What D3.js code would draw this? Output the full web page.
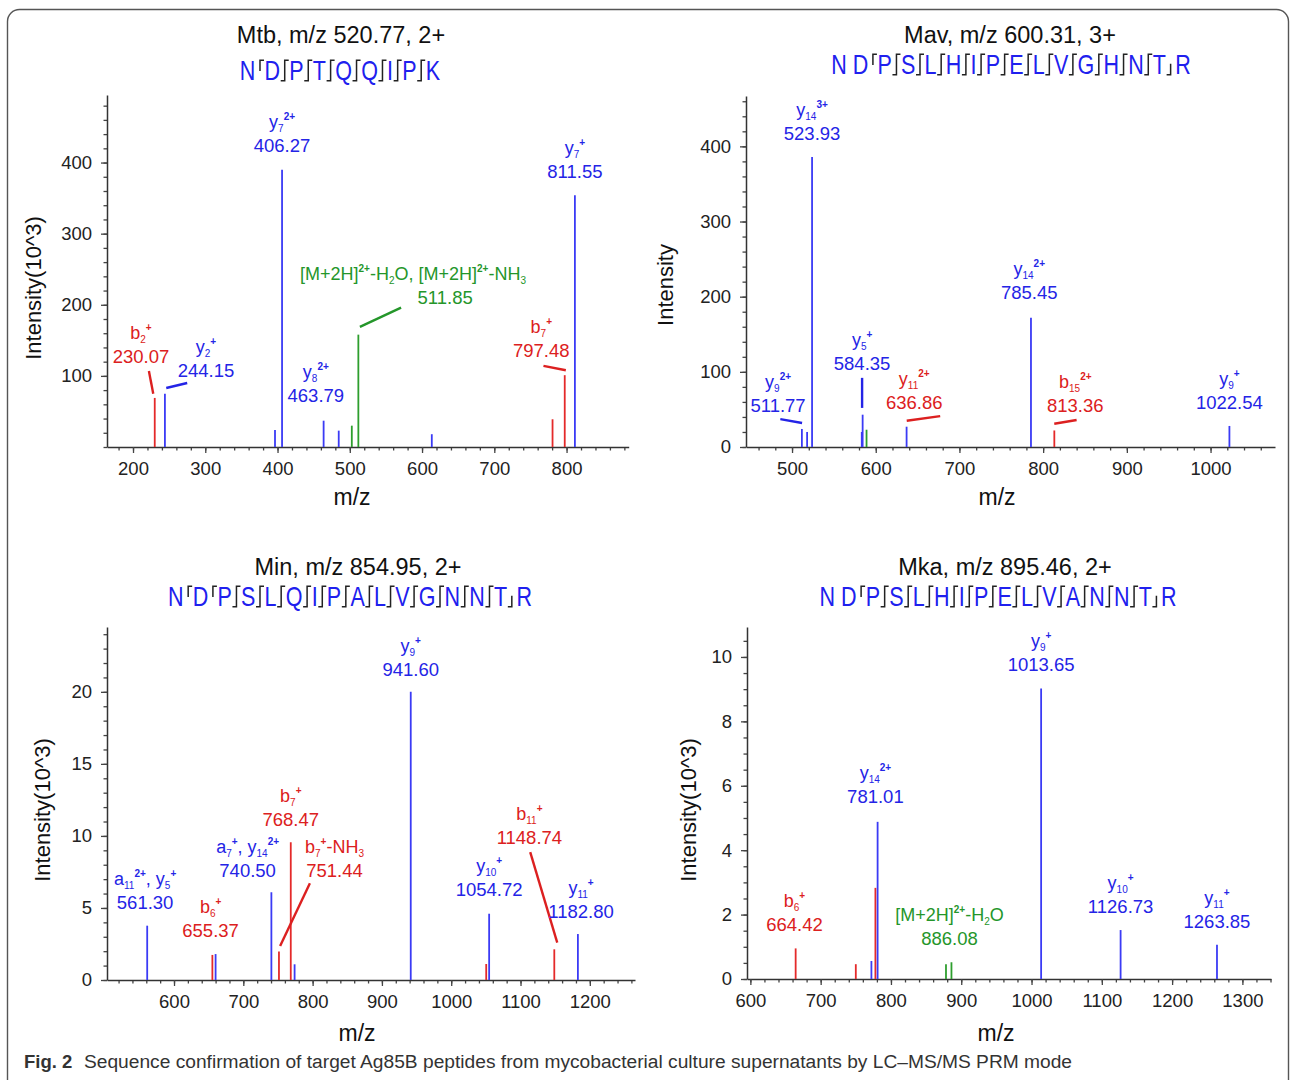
<!DOCTYPE html>
<html>
<head>
<meta charset="utf-8">
<script src="https://cdn.jsdelivr.net/npm/d3@7"></script>
<style>
  body { margin: 0; background: #fff; }
  svg { display: block; font-family: "Liberation Sans", Arial, sans-serif; }
</style>
</head>
<body>
<svg id="fig" width="1290" height="1080"></svg>
<script>
// ---------- Mtb, m/z 520.77, 2+ ----------
const mtbMz  = [230.07, 244.15, 396.5, 406.27, 463.79, 484.7, 502.8, 511.85, 613.5, 780.6, 797.48, 811.55];
const mtbInt = [69, 75, 24, 390, 37, 23, 30, 158, 18, 39, 101, 354];
const mtbIon = ['b', 'y', 'y', 'y', 'y', 'y', 'm', 'm', 'y', 'b', 'b', 'y'];
const mtbXTicks = [200, 300, 400, 500, 600, 700, 800];
const mtbYTicks = [100, 200, 300, 400];
const mtbSeq = 'NDPTQQIPK';
const mtbFrag = ['b', 'by', 'by', 'by', 'by', 'by', 'by', 'by'];

// ---------- Mav, m/z 600.31, 3+ ----------
const mavMz  = [511.77, 518.0, 523.93, 583.3, 584.35, 589.0, 636.86, 785.45, 813.36, 1022.54];
const mavInt = [24, 20, 386, 20, 43, 23, 27, 172, 22, 28];
const mavIon = ['y', 'y', 'y', 'y', 'y', 'm', 'y', 'y', 'b', 'y'];
const mavXTicks = [500, 600, 700, 800, 900, 1000];
const mavYTicks = [0, 100, 200, 300, 400];
const mavSeq = 'NDPSLHIPELVGHNTR';
const mavFrag = ['', 'b', 'by', 'by', 'by', 'by', 'by', 'by', 'by', 'by', 'by', 'by', 'by', 'by', 'y'];

// ---------- Min, m/z 854.95, 2+ ----------
const minMz  = [561.30, 655.37, 660.0, 740.50, 751.44, 768.47, 774.0, 941.60, 1050.5, 1054.72, 1148.74, 1182.80];
const minInt = [3.77, 1.74, 1.8, 6.09, 1.97, 9.56, 1.09, 20.0, 1.11, 4.6, 2.13, 3.19];
const minIon = ['y', 'b', 'y', 'y', 'b', 'b', 'y', 'y', 'b', 'y', 'b', 'y'];
const minXTicks = [600, 700, 800, 900, 1000, 1100, 1200];
const minYTicks = [0, 5, 10, 15, 20];
const minSeq = 'NDPSLQIPALVGNNTR';
const minFrag = ['b', 'b', 'by', 'by', 'by', 'by', 'by', 'by', 'by', 'by', 'by', 'by', 'by', 'by', 'y'];

// ---------- Mka, m/z 895.46, 2+ ----------
const mkaMz  = [664.42, 750.0, 772.2, 777.9, 781.01, 878.3, 886.08, 1013.65, 1126.73, 1263.85];
const mkaInt = [0.95, 0.46, 0.56, 2.83, 4.88, 0.46, 0.52, 9.02, 1.52, 1.06];
const mkaIon = ['b', 'b', 'y', 'b', 'y', 'm', 'm', 'y', 'y', 'y'];
const mkaXTicks = [600, 700, 800, 900, 1000, 1100, 1200, 1300];
const mkaYTicks = [0, 2, 4, 6, 8, 10];
const mkaSeq = 'NDPSLHIPELVANNTR';
const mkaFrag = ['', 'b', 'by', 'by', 'by', 'by', 'by', 'by', 'by', 'by', 'by', 'by', 'by', 'by', 'y'];

// peak annotations: at = [m/z, intensity] of the value line, lead = leader line in data units
const mtbLabels = [
  { ion: 'b_{2}^{+}', val: '230.07', c: 'b', at: [211, 118], lead: [222, 107, 228, 75] },
  { ion: 'y_{2}^{+}', val: '244.15', c: 'y', at: [301, 98], lead: [246, 83, 275, 90] },
  { ion: 'y_{7}^{2+}', val: '406.27', c: 'y', at: [406.27, 415] },
  { ion: 'y_{8}^{2+}', val: '463.79', c: 'y', at: [453, 63] },
  { ion: '[M+2H]^{2+}-H_{2}O, [M+2H]^{2+}-NH_{3}', ionX: 587.5, val: '511.85', c: 'm', at: [632, 201], lead: [514, 169, 571, 196] },
  { ion: 'b_{7}^{+}', val: '797.48', c: 'b', at: [765, 127], lead: [768, 114, 799, 108] },
  { ion: 'y_{7}^{+}', val: '811.55', c: 'y', at: [811.55, 378] }
];
const mavLabels = [
  { ion: 'y_{14}^{3+}', val: '523.93', c: 'y', at: [523.93, 408] },
  { ion: 'y_{9}^{2+}', val: '511.77', c: 'y', at: [483.3, 47], lead: [486, 37, 512, 32] },
  { ion: 'y_{5}^{+}', val: '584.35', c: 'y', at: [583.7, 102], lead: [583.7, 92, 583.7, 52] },
  { ion: 'y_{11}^{2+}', val: '636.86', c: 'b', at: [646, 51], lead: [637, 35, 677, 41] },
  { ion: 'y_{14}^{2+}', val: '785.45', c: 'y', at: [783.4, 197] },
  { ion: 'b_{15}^{2+}', val: '813.36', c: 'b', at: [838.4, 46], lead: [813.3, 31, 840, 36] },
  { ion: 'y_{9}^{+}', val: '1022.54', c: 'y', at: [1022.54, 51] }
];
const minLabels = [
  { ion: 'a_{11}^{2+}, y_{5}^{+}', val: '561.30', c: 'y', at: [558.3, 4.92] },
  { ion: 'b_{6}^{+}', val: '655.37', c: 'b', at: [652.8, 2.97] },
  { ion: 'a_{7}^{+}, y_{14}^{2+}', val: '740.50', c: 'y', at: [706.2, 7.12] },
  { ion: 'b_{7}^{+}', val: '768.47', c: 'b', at: [768.47, 10.71] },
  { ion: 'b_{7}^{+}-NH_{3}', val: '751.44', c: 'b', at: [831.6, 7.12], lead: [796.1, 6.71, 753.1, 2.36] },
  { ion: 'y_{9}^{+}', val: '941.60', c: 'y', at: [941.6, 21.1] },
  { ion: 'y_{10}^{+}', val: '1054.72', c: 'y', at: [1054.72, 5.8] },
  { ion: 'b_{11}^{+}', val: '1148.74', c: 'b', at: [1112.8, 9.46], lead: [1114, 8.87, 1153, 2.59] },
  { ion: 'y_{11}^{+}', val: '1182.80', c: 'y', at: [1187.3, 4.29] }
];
const mkaLabels = [
  { ion: 'b_{6}^{+}', val: '664.42', c: 'b', at: [662.7, 1.5] },
  { ion: 'y_{14}^{2+}', val: '781.01', c: 'y', at: [777.9, 5.45] },
  { ion: '[M+2H]^{2+}-H_{2}O', val: '886.08', c: 'm', at: [883.3, 1.06] },
  { ion: 'y_{9}^{+}', val: '1013.65', c: 'y', at: [1013.65, 9.56] },
  { ion: 'y_{10}^{+}', val: '1126.73', c: 'y', at: [1126.73, 2.04] },
  { ion: 'y_{11}^{+}', val: '1263.85', c: 'y', at: [1263.85, 1.58] }
];

const peakColor = { b: '#e42a2a', y: '#3b3bf5', m: '#2e9e2e' };
const textColor = { b: '#dc2020', y: '#2424e6', m: '#24962a' };
const seqBlue = '#2020ee';

const panels = [
  { title: 'Mtb, m/z 520.77, 2+', seq: mtbSeq, frag: mtbFrag, mz: mtbMz, inten: mtbInt, ion: mtbIon, labels: mtbLabels,
    xd: [164, 886], yd: [0, 495], xr: [107, 628.7], yr: [447, 95], xt: mtbXTicks, yt: mtbYTicks, xm: 20, ym: 20,
    tx: 341, ty: 43, sx: 340, sy: 80, yTitle: 'Intensity(10^3)', ytx: 33, yty: 288, xtx: 352, xty: 505 },
  { title: 'Mav, m/z 600.31, 3+', seq: mavSeq, frag: mavFrag, mz: mavMz, inten: mavInt, ion: mavIon, labels: mavLabels,
    xd: [445, 1077], yd: [0, 467], xr: [746, 1275], yr: [447, 96], xt: mavXTicks, yt: mavYTicks, xm: 20, ym: 20,
    tx: 1010, ty: 43, sx: 1011, sy: 74, yTitle: 'Intensity', ytx: 665, yty: 285, xtx: 997, xty: 505 },
  { title: 'Min, m/z 854.95, 2+', seq: minSeq, frag: minFrag, mz: minMz, inten: minInt, ion: minIon, labels: minLabels,
    xd: [503.3, 1265.2], yd: [0, 24.5], xr: [107, 635], yr: [980, 627], xt: minXTicks, yt: minYTicks, xm: 20, ym: 1,
    tx: 358, ty: 575, sx: 350, sy: 606, yTitle: 'Intensity(10^3)', ytx: 42, yty: 810, xtx: 357, xty: 1041 },
  { title: 'Mka, m/z 895.46, 2+', seq: mkaSeq, frag: mkaFrag, mz: mkaMz, inten: mkaInt, ion: mkaIon, labels: mkaLabels,
    xd: [595.2, 1340.7], yd: [0, 10.93], xr: [747, 1271], yr: [979, 627], xt: mkaXTicks, yt: mkaYTicks, xm: 20, ym: 0.5,
    tx: 1005, ty: 575, sx: 998, sy: 606, yTitle: 'Intensity(10^3)', ytx: 688, yty: 810, xtx: 996, xty: 1041 }
];

const svg = d3.select('#fig');

// outer frame
svg.append('rect')
  .attr('x', 7.5).attr('y', 9.5).attr('width', 1281).attr('height', 1100)
  .attr('rx', 12).attr('fill', 'none').attr('stroke', '#555').attr('stroke-width', 1.4);

// text with _{sub} and ^{sup} parts
function addRich(text, str, size) {
  let cur = 0;
  const parts = str.match(/_\{[^}]*\}|\^\{[^}]*\}|[^_^]+/g);
  parts.forEach((p) => {
    let kind = 'n', t = p;
    if (p[0] === '_') { kind = 'sub'; t = p.slice(2, -1); }
    else if (p[0] === '^') { kind = 'sup'; t = p.slice(2, -1); }
    const off = kind === 'sub' ? 4 : kind === 'sup' ? -8 : 0;
    text.append('tspan')
      .attr('dy', off - cur)
      .attr('font-size', kind === 'n' ? size : 10)
      .attr('font-weight', kind === 'sup' ? 'bold' : null)
      .text(t);
    cur = off;
  });
}

function drawSeq(p) {
  const sg = svg.append('g');
  let x = 0;
  p.seq.split('').forEach((ch, i) => {
    const t = sg.append('text').attr('x', x).attr('y', 0)
      .attr('font-size', 21.5).attr('fill', seqBlue).text(ch);
    x += t.node().getComputedTextLength();
    if (i < p.frag.length) {
      const f = p.frag[i];
      if (f === '') { x += 6; return; }
      const m = x + 4.6;
      let d;
      if (f === 'b') d = `M${m + 4},-15.5H${m}V-7`;
      else if (f === 'y') d = `M${m - 4},0.5H${m}V-8`;
      else d = `M${m - 4},0.5H${m}V-15.5H${m + 4}`;
      sg.append('path').attr('d', d).attr('fill', 'none')
        .attr('stroke', '#222').attr('stroke-width', 1.5)
        .attr('vector-effect', 'non-scaling-stroke');
      x += 9.2;
    }
  });
  sg.attr('transform', `translate(${p.sx - x / 2},${p.sy}) scale(1,1.28)`);
}

panels.forEach((p) => {
  const x = d3.scaleLinear().domain(p.xd).range(p.xr);
  const y = d3.scaleLinear().domain(p.yd).range(p.yr);
  const g = svg.append('g');

  // titles
  svg.append('text').attr('x', p.tx).attr('y', p.ty).attr('text-anchor', 'middle')
    .attr('font-size', 23.5).attr('fill', '#111').text(p.title);
  drawSeq(p);

  // minor ticks
  const xMinor = d3.range(Math.ceil(p.xd[0] / p.xm) * p.xm, p.xd[1], p.xm);
  const yMinor = d3.range(Math.ceil(p.yd[0] / p.ym) * p.ym, p.yd[1], p.ym);
  g.append('g').attr('transform', `translate(0,${p.yr[0]})`)
    .call(d3.axisBottom(x).tickValues(xMinor).tickSize(3.5).tickSizeOuter(0).tickFormat(''))
    .call((a) => a.select('.domain').remove());
  g.append('g').attr('transform', `translate(${p.xr[0]},0)`)
    .call(d3.axisLeft(y).tickValues(yMinor).tickSize(3.5).tickSizeOuter(0).tickFormat(''))
    .call((a) => a.select('.domain').remove());

  // major axes
  const ax = g.append('g').attr('transform', `translate(0,${p.yr[0]})`)
    .call(d3.axisBottom(x).tickValues(p.xt).tickSize(6).tickSizeOuter(0).tickPadding(9).tickFormat(d3.format('d')));
  const ay = g.append('g').attr('transform', `translate(${p.xr[0]},0)`)
    .call(d3.axisLeft(y).tickValues(p.yt).tickSize(6).tickSizeOuter(0).tickPadding(9).tickFormat(d3.format('d')));
  [ax, ay].forEach((a) => {
    a.selectAll('text').attr('font-size', 18.5).attr('fill', '#222').attr('font-family', '"Liberation Sans", Arial, sans-serif');
    a.select('.domain').attr('stroke', '#333').attr('stroke-width', 1.5);
  });
  g.selectAll('.tick line').attr('stroke', '#444').attr('stroke-width', 1.3);

  // axis titles
  svg.append('text').attr('transform', `translate(${p.ytx},${p.yty}) rotate(-90)`)
    .attr('text-anchor', 'middle').attr('dy', '0.35em')
    .attr('font-size', 22).attr('fill', '#111').text(p.yTitle);
  svg.append('text').attr('x', p.xtx).attr('y', p.xty).attr('text-anchor', 'middle')
    .attr('font-size', 23).attr('fill', '#111').text('m/z');

  // peaks
  const peaks = p.mz.map((m, i) => ({ m, v: p.inten[i], ion: p.ion[i] }));
  g.selectAll('.peak').data(peaks).enter().append('line')
    .attr('class', 'peak')
    .attr('x1', (d) => x(d.m)).attr('x2', (d) => x(d.m))
    .attr('y1', y(0)).attr('y2', (d) => y(d.v))
    .attr('stroke', (d) => peakColor[d.ion]).attr('stroke-width', 1.8);

  // labels
  p.labels.forEach((l) => {
    const col = textColor[l.c];
    if (l.lead) {
      g.append('line')
        .attr('x1', x(l.lead[0])).attr('y1', y(l.lead[1]))
        .attr('x2', x(l.lead[2])).attr('y2', y(l.lead[3]))
        .attr('stroke', col).attr('stroke-width', 2.4);
    }
    const vx = x(l.at[0]), vy = y(l.at[1]);
    g.append('text').attr('x', vx).attr('y', vy).attr('text-anchor', 'middle')
      .attr('font-size', 18.5).attr('fill', col).text(l.val);
    const t1 = g.append('text').attr('x', l.ionX ? x(l.ionX) : vx).attr('y', vy - 24)
      .attr('text-anchor', 'middle').attr('fill', col);
    addRich(t1, l.ion, 18);
  });
});

// caption
svg.append('text').attr('x', 24).attr('y', 1068).attr('font-size', 18.5)
  .attr('font-weight', 'bold').attr('fill', '#333').text('Fig. 2');
svg.append('text').attr('x', 84).attr('y', 1068).attr('font-size', 18).attr('fill', '#333')
  .attr('textLength', 988).attr('lengthAdjust', 'spacingAndGlyphs')
  .text('Sequence confirmation of target Ag85B peptides from mycobacterial culture supernatants by LC–MS/MS PRM mode');
</script>
</body>
</html>
